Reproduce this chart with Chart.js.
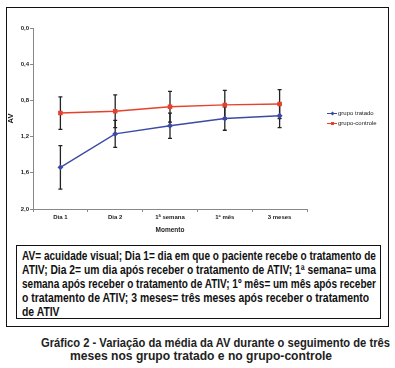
<!DOCTYPE html>
<html>
<head>
<meta charset="utf-8">
<script src="https://cdn.jsdelivr.net/npm/chart.js@4"></script>
<style>
  body { margin: 0; background: #fff; width: 395px; height: 368px; position: relative; font-family: "Liberation Sans", Arial, sans-serif; }
  #frame { position: absolute; left: 6px; top: 7px; width: 381px; height: 318px; border: 1.5px solid #111; }
  #chartBox { position: absolute; left: 6px; top: 7px; }
  #legend { position: absolute; left: 327px; top: 108px; font-size: 6px; color: #222; line-height: 10px; }
  #legend .item { position: relative; padding-left: 11px; white-space: nowrap; }
  #legend .ln { position: absolute; left: 0; top: 4.5px; width: 10px; height: 1.2px; }
  #legend .mk { position: absolute; left: 4px; top: 3.5px; width: 3px; height: 3px; }
  #note { position: absolute; left: 16px; top: 245px; width: 363px; height: 72px; border: 1.5px solid #111;
          font-weight: bold; font-size: 12.5px; color: #111; }
  .fit { position: absolute; white-space: nowrap; transform-origin: 0 0; line-height: 14px; }
  #note .fit { left: 4.5px; }
  #caption { font-weight: bold; font-size: 12px; color: #222; }
</style>
</head>
<body>
<div id="frame"></div>
<div id="chartBox"><canvas id="avChart" width="383" height="230"></canvas></div>
<div id="legend"></div>
<div id="note">
  <span class="fit" data-w="354" style="top:3px">AV= acuidade visual; Dia 1= dia em que o paciente recebe o tratamento de</span>
  <span class="fit" data-w="354" style="top:17px">ATIV; Dia 2= um dia após receber o tratamento de ATIV; 1ª semana= uma</span>
  <span class="fit" data-w="354" style="top:31px">semana após receber o tratamento de ATIV; 1º mês= um mês após receber</span>
  <span class="fit" data-w="347" style="top:45px">o tratamento de ATIV; 3 meses= três meses após receber o tratamento</span>
  <span class="fit" style="top:59px">de ATIV</span>
</div>
<div id="caption">
  <span class="fit" data-w="349" style="left:41px; top:336px">Gráfico 2 - Variação da média da AV durante o seguimento de três</span>
  <span class="fit" data-w="262" style="left:70px; top:349px">meses nos grupo tratado e no grupo-controle</span>
</div>
<script>
const momentos = ["Dia 1", "Dia 2", "1ª semana", "1º mês", "3 meses"];
const tratado = [1.54, 1.17, 1.08, 1.00, 0.97];
const tratadoErro = [0.24, 0.15, 0.14, 0.13, 0.13];
const controle = [0.94, 0.92, 0.87, 0.85, 0.84];
const controleErro = [0.18, 0.18, 0.17, 0.16, 0.16];
const yTicks = [0, 0.4, 0.8, 1.2, 1.6, 2.0];

const azul = "#3b4aa6";
const vermelho = "#e8412b";

// barras de erro desenhadas pela escala y
const errorBars = {
  id: "errorBars",
  beforeDatasetsDraw(chart) {
    const c = chart.ctx;
    const y = chart.scales.y;
    c.save();
    c.strokeStyle = "#222";
    c.lineWidth = 1.3;
    chart.data.datasets.forEach((ds, i) => {
      const meta = chart.getDatasetMeta(i);
      meta.data.forEach((pt, j) => {
        const v = ds.data[j];
        const e = ds.erro[j];
        const top = y.getPixelForValue(v - e);
        const bot = y.getPixelForValue(v + e);
        c.beginPath();
        c.moveTo(pt.x, top); c.lineTo(pt.x, bot);
        c.moveTo(pt.x - 2, top); c.lineTo(pt.x + 2, top);
        c.moveTo(pt.x - 2, bot); c.lineTo(pt.x + 2, bot);
        c.stroke();
      });
    });
    c.restore();
  }
};

const ctx = document.getElementById("avChart");

new Chart(ctx, {
  type: "line",
  data: {
    labels: momentos,
    datasets: [
      {
        label: "grupo tratado",
        data: tratado,
        erro: tratadoErro,
        borderColor: azul,
        backgroundColor: azul,
        borderWidth: 1.4,
        pointStyle: "rectRot",
        pointRadius: 2,
        tension: 0,
      },
      {
        label: "grupo-controle",
        data: controle,
        erro: controleErro,
        borderColor: vermelho,
        backgroundColor: vermelho,
        borderWidth: 1.4,
        pointStyle: "rect",
        pointRadius: 2.2,
        tension: 0,
      },
    ],
  },
  options: {
    responsive: false,
    animation: false,
    devicePixelRatio: 1,
    layout: { padding: { top: 21, right: 82, left: 0, bottom: 0 } },
    plugins: {
      legend: { display: false },
      tooltip: { enabled: false },
    },
    scales: {
      x: {
        offset: true,
        grid: { offset: true, drawOnChartArea: false, tickLength: 3, color: "#888" },
        border: { color: "#888", width: 1 },
        ticks: { color: "#222", font: { family: "Liberation Sans", size: 6, weight: "bold" }, padding: 2, maxRotation: 0 },
        title: { display: true, text: "Momento", color: "#222", font: { family: "Liberation Sans", size: 6.5, weight: "bold" }, padding: { top: 2, bottom: 3 } },
        afterFit(s) { s.height = 28; },
      },
      y: {
        reverse: true,
        min: 0,
        max: 2,
        afterBuildTicks(s) { s.ticks = yTicks.map(v => ({ value: v })); },
        grid: { drawOnChartArea: false, tickLength: 3, color: "#888" },
        border: { color: "#888", width: 1 },
        ticks: {
          color: "#222",
          font: { family: "Liberation Sans", size: 6, weight: "bold" },
          padding: 1,
          callback: v => v.toFixed(1).replace(".", ","),
        },
        title: { display: true, text: "AV", color: "#111", font: { family: "Liberation Sans", size: 7.5, weight: "bold" }, padding: { top: 0, bottom: 3 } },
        afterFit(s) { s.width = 27; },
      },
    },
  },
  plugins: [errorBars],
});

// legenda em HTML
const legend = document.getElementById("legend");
[["grupo tratado", azul, "rotate(45deg)"], ["grupo-controle", vermelho, "none"]].forEach(([nome, cor, rot]) => {
  legend.innerHTML += `<div class="item"><span class="ln" style="background:${cor}"></span><span class="mk" style="background:${cor};transform:${rot}"></span>${nome}</div>`;
});

// ajusta a largura das linhas de texto (fonte condensada)
let escala = 1;
document.querySelectorAll(".fit").forEach(el => {
  const w = el.getBoundingClientRect().width;
  if (el.dataset.w) escala = +el.dataset.w / w;
  el.style.transform = `scaleX(${escala.toFixed(3)})`;
});
</script>
</body>
</html>
